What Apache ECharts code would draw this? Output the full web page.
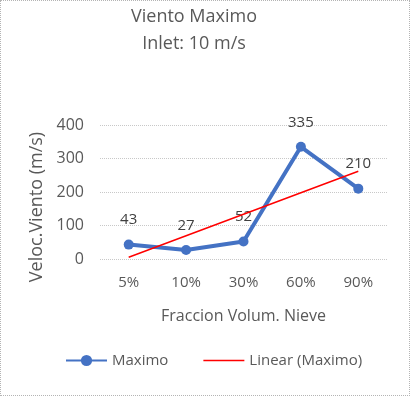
<!DOCTYPE html>
<html>
<head>
<meta charset="utf-8">
<script src="https://cdn.jsdelivr.net/npm/echarts@6/dist/echarts.min.js"></script>
<style>
  html, body { margin: 0; padding: 0; background: #fff; }
  #chart { width: 410px; height: 396px; box-sizing: border-box; border: 1px dotted #b4b4b4; }
</style>
</head>
<body>
<div id="chart"></div>
<script>
// data
var categories = ['5%', '10%', '30%', '60%', '90%'];
var maximo = [43, 27, 52, 335, 210];
var yTicks = [0, 100, 200, 300, 400];

// linear trendline (least squares over category index, like Excel)
var n = maximo.length, sx = 0, sy = 0, sxy = 0, sxx = 0;
for (var i = 0; i < n; i++) {
  sx += i + 1; sy += maximo[i]; sxy += (i + 1) * maximo[i]; sxx += (i + 1) * (i + 1);
}
var slope = (n * sxy - sx * sy) / (n * sxx - sx * sx);
var icpt = (sy - slope * sx) / n;
var trend = maximo.map(function (v, k) { return +(icpt + slope * (k + 1)).toFixed(2); });

var FONT = 'Open Sans';
var txt = '#595959';

var chart = echarts.init(document.getElementById('chart'));
chart.setOption({
  animation: false,
  textStyle: { fontFamily: FONT },
  title: {
    text: 'Viento Maximo\nInlet: 10 m/s',
    left: 193, top: 2, padding: 0, textAlign: 'center',
    textStyle: { fontFamily: FONT, fontSize: 18, fontWeight: 'normal', color: txt, lineHeight: 27 }
  },
  grid: { left: 99, right: 22, top: 124, bottom: 136, containLabel: false },
  legend: {
    left: 64, top: 352, padding: 0, itemWidth: 41, itemHeight: 14, itemGap: 35,
    textStyle: { fontFamily: FONT, fontSize: 15, color: txt },
    data: [
      { name: 'Maximo' },
      { name: 'Linear (Maximo)', icon: 'path://M0 0H41V1.5H0Z' }
    ]
  },
  xAxis: {
    type: 'category',
    data: categories,
    boundaryGap: true,
    name: 'Fraccion Volum. Nieve',
    nameLocation: 'middle',
    nameGap: 49,
    nameTextStyle: { fontFamily: FONT, fontSize: 16, color: txt },
    axisLine: { show: false },
    axisTick: { show: false },
    axisLabel: { fontFamily: FONT, fontSize: 15, color: txt, margin: 16 }
  },
  yAxis: {
    type: 'value',
    min: yTicks[0], max: yTicks[yTicks.length - 1], interval: 100,
    name: 'Veloc.Viento (m/s)',
    nameLocation: 'middle',
    nameGap: 52,
    nameTextStyle: { fontFamily: FONT, fontSize: 18, color: txt, padding: [0, 30, 0, 0] },
    axisLine: { show: false },
    axisTick: { show: false },
    axisLabel: { fontFamily: FONT, fontSize: 16, color: txt, margin: 16 },
    splitLine: { lineStyle: { color: '#c8c8c8', type: [1, 1], width: 1 } }
  },
  series: [
    {
      name: 'Maximo',
      type: 'line',
      data: maximo,
      symbol: 'circle',
      symbolSize: 10,
      lineStyle: { color: '#4472C4', width: 4 },
      itemStyle: { color: '#4472C4' },
      label: {
        show: true, position: 'top', distance: 12,
        fontFamily: FONT, fontSize: 15, color: '#404040'
      },
      z: 3
    },
    {
      name: 'Linear (Maximo)',
      type: 'line',
      data: trend,
      symbol: 'none',
      lineStyle: { color: '#FF0000', width: 1.5 },
      itemStyle: { color: '#FF0000' },
      silent: true,
      z: 4
    }
  ]
});
</script>
</body>
</html>
